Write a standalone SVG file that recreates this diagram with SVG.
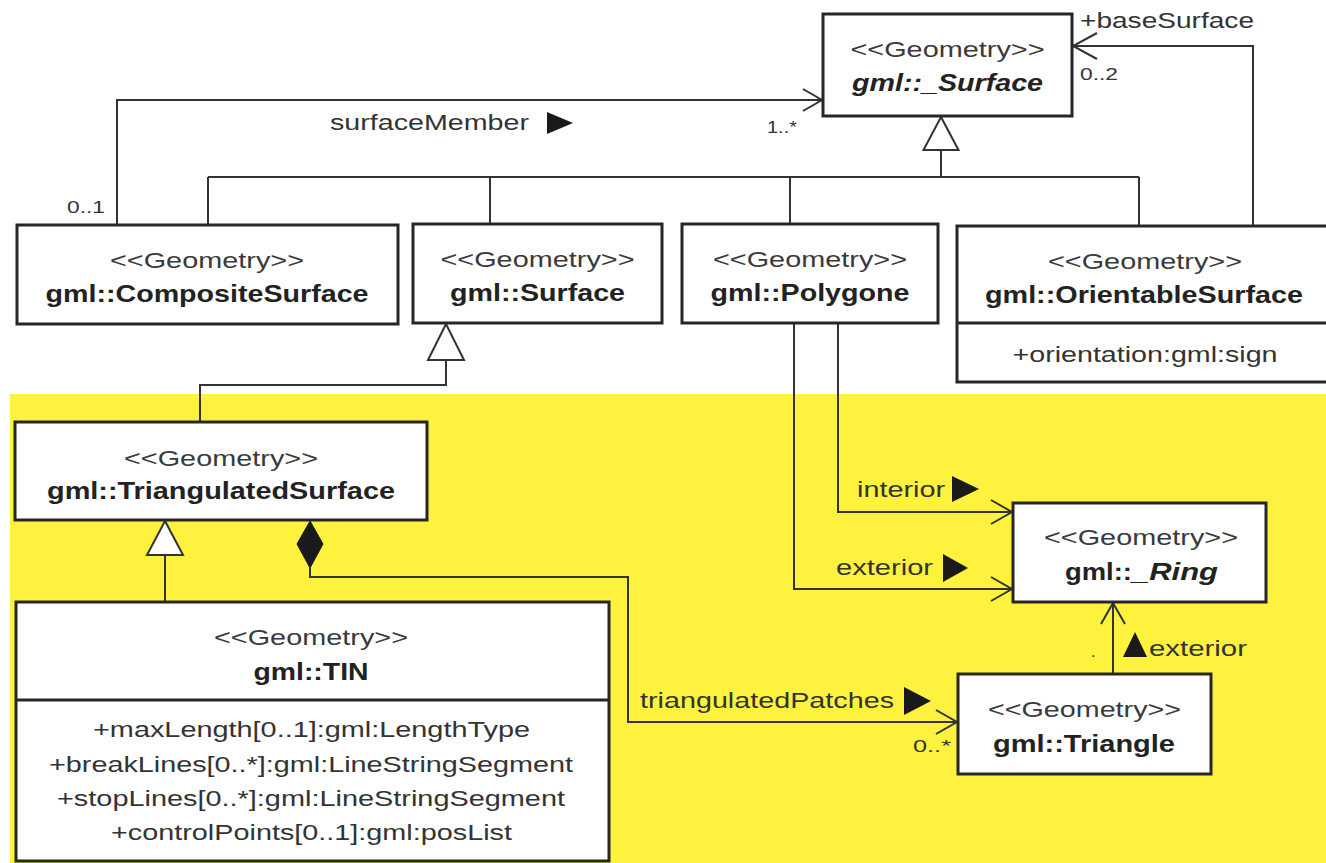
<svg xmlns="http://www.w3.org/2000/svg" width="1326" height="863" viewBox="0 0 1326 863">
<defs>
<style>
.box{fill:#fff;stroke:#262626;stroke-width:3}
.ln{fill:none;stroke:#333;stroke-width:2}
.hd{fill:none;stroke:#333;stroke-width:2}
.gen{fill:#fff;stroke:#333;stroke-width:2}
.st{font-family:"Liberation Sans",Arial,Helvetica,sans-serif;font-size:22px;fill:#3a3a3a;text-anchor:middle}
.nm{font-family:"Liberation Sans",Arial,Helvetica,sans-serif;font-size:23px;font-weight:bold;fill:#222;text-anchor:middle}
.it{font-style:italic}
.at{font-family:"Liberation Sans",Arial,Helvetica,sans-serif;font-size:22px;fill:#333;text-anchor:middle}
.lb{font-family:"Liberation Sans",Arial,Helvetica,sans-serif;font-size:22px;fill:#333}
.mu{font-family:"Liberation Sans",Arial,Helvetica,sans-serif;font-size:16px;fill:#333}
.tri{fill:#1a1a1a}
</style>
</defs>
<rect x="0" y="0" width="1326" height="863" fill="#fff"/>
<rect x="10" y="394" width="1316" height="469" fill="#FFF23E"/>

<g id="connectors">
  <!-- generalization to _Surface -->
  <path class="ln" d="M941 150 V177 M208 177 H1139 M208 177 V225 M490 177 V224 M790 177 V224 M1139 177 V226"/>
  <polygon class="gen" points="941,117 923.5,150 958.5,150"/>
  <!-- surfaceMember -->
  <path class="ln" d="M117 225 V100 H822"/>
  <path class="hd" d="M803 89 L822 100 L803 111"/>
  <text class="lb" x="330" y="130" textLength="199" lengthAdjust="spacingAndGlyphs">surfaceMember</text>
  <polygon class="tri" points="547,112 573,123 547,134"/>
  <text class="mu" x="767" y="133" textLength="30" lengthAdjust="spacingAndGlyphs">1..*</text>
  <text class="mu" x="67" y="213" textLength="38" lengthAdjust="spacingAndGlyphs">0..1</text>
  <!-- baseSurface -->
  <path class="ln" d="M1253 226 V46 H1073"/>
  <path class="hd" d="M1097 33 L1073 46 L1097 59"/>
  <text class="lb" x="1080" y="28" textLength="174" lengthAdjust="spacingAndGlyphs">+baseSurface</text>
  <text class="mu" x="1080" y="80" textLength="38" lengthAdjust="spacingAndGlyphs">0..2</text>
  <!-- Surface <- TriangulatedSurface -->
  <path class="ln" d="M446 360 V385 H200 V422"/>
  <polygon class="gen" points="446,324 428,360 464,360"/>
  <!-- TriangulatedSurface <- TIN -->
  <path class="ln" d="M165 555 V602"/>
  <polygon class="gen" points="165,521 147,555 183,555"/>
  <!-- composition triangulatedPatches -->
  <polygon fill="#1a1a1a" stroke="#1a1a1a" stroke-width="1" points="310,521 297,544 310,568 323,544"/>
  <path class="ln" d="M310 568 V577 H628 V722 H957"/>
  <path class="hd" d="M936 710 L957 722 L936 734"/>
  <text class="lb" x="640" y="708" textLength="254" lengthAdjust="spacingAndGlyphs">triangulatedPatches</text>
  <polygon class="tri" points="904,687 931,701 904,715"/>
  <text class="mu" x="913" y="752" textLength="38" lengthAdjust="spacingAndGlyphs">0..*</text>
  <!-- interior -->
  <path class="ln" d="M838 323 V512 H1012"/>
  <path class="hd" d="M991 500 L1012 512 L991 524"/>
  <text class="lb" x="857" y="497" textLength="88" lengthAdjust="spacingAndGlyphs">interior</text>
  <polygon class="tri" points="952,476 979,489 952,502"/>
  <!-- exterior -->
  <path class="ln" d="M794 323 V589 H1012"/>
  <path class="hd" d="M991 577 L1012 589 L991 601"/>
  <text class="lb" x="836" y="575" textLength="97" lengthAdjust="spacingAndGlyphs">exterior</text>
  <polygon class="tri" points="943,554 968,568 943,582"/>
  <!-- Triangle exterior to _Ring -->
  <path class="ln" d="M1113 674 V603"/>
  <path class="hd" d="M1101 624 L1113 603 L1125 624"/>
  <polygon class="tri" points="1135,632 1123,657 1147,657"/>
  <text class="lb" x="1149" y="656" textLength="98" lengthAdjust="spacingAndGlyphs">exterior</text>
  <text class="mu" x="1091" y="657">.</text>
</g>

<g id="node-surface-abstract">
  <rect class="box" x="823" y="14" width="249" height="102"/>
  <text class="st" x="947.5" y="57" textLength="194" lengthAdjust="spacingAndGlyphs">&lt;&lt;Geometry&gt;&gt;</text>
  <text class="nm it" x="947.5" y="91" textLength="191" lengthAdjust="spacingAndGlyphs">gml::_Surface</text>
</g>

<g id="node-compositesurface">
  <rect class="box" x="17" y="225" width="381" height="99"/>
  <text class="st" x="207" y="268" textLength="194" lengthAdjust="spacingAndGlyphs">&lt;&lt;Geometry&gt;&gt;</text>
  <text class="nm" x="207" y="302" textLength="323" lengthAdjust="spacingAndGlyphs">gml::CompositeSurface</text>
</g>

<g id="node-surface">
  <rect class="box" x="413" y="224" width="249" height="99"/>
  <text class="st" x="537.5" y="267" textLength="194" lengthAdjust="spacingAndGlyphs">&lt;&lt;Geometry&gt;&gt;</text>
  <text class="nm" x="537.5" y="301" textLength="175" lengthAdjust="spacingAndGlyphs">gml::Surface</text>
</g>

<g id="node-polygone">
  <rect class="box" x="682" y="224" width="256" height="99"/>
  <text class="st" x="810" y="267" textLength="194" lengthAdjust="spacingAndGlyphs">&lt;&lt;Geometry&gt;&gt;</text>
  <text class="nm" x="810" y="301" textLength="199" lengthAdjust="spacingAndGlyphs">gml::Polygone</text>
</g>

<g id="node-orientablesurface">
  <rect class="box" x="957" y="226" width="380" height="156"/>
  <line class="box" x1="957" y1="323" x2="1337" y2="323"/>
  <text class="st" x="1145" y="269" textLength="194" lengthAdjust="spacingAndGlyphs">&lt;&lt;Geometry&gt;&gt;</text>
  <text class="nm" x="1144" y="303" textLength="318" lengthAdjust="spacingAndGlyphs">gml::OrientableSurface</text>
  <text class="at" x="1145" y="362" textLength="265" lengthAdjust="spacingAndGlyphs">+orientation:gml:sign</text>
</g>

<g id="node-triangulatedsurface">
  <rect class="box" x="15" y="422" width="412" height="98"/>
  <text class="st" x="221" y="466" textLength="194" lengthAdjust="spacingAndGlyphs">&lt;&lt;Geometry&gt;&gt;</text>
  <text class="nm" x="221" y="499" textLength="348" lengthAdjust="spacingAndGlyphs">gml::TriangulatedSurface</text>
</g>

<g id="node-tin">
  <rect class="box" x="16" y="602" width="593" height="259"/>
  <line class="box" x1="16" y1="700" x2="609" y2="700"/>
  <text class="st" x="311" y="645" textLength="194" lengthAdjust="spacingAndGlyphs">&lt;&lt;Geometry&gt;&gt;</text>
  <text class="nm" x="311" y="680" textLength="115" lengthAdjust="spacingAndGlyphs">gml::TIN</text>
  <text class="at" x="311.5" y="737" textLength="437" lengthAdjust="spacingAndGlyphs">+maxLength[0..1]:gml:LengthType</text>
  <text class="at" x="311" y="772" textLength="524" lengthAdjust="spacingAndGlyphs">+breakLines[0..*]:gml:LineStringSegment</text>
  <text class="at" x="311" y="806" textLength="508" lengthAdjust="spacingAndGlyphs">+stopLines[0..*]:gml:LineStringSegment</text>
  <text class="at" x="311.5" y="840" textLength="401" lengthAdjust="spacingAndGlyphs">+controlPoints[0..1]:gml:posList</text>
</g>

<g id="node-ring">
  <rect class="box" x="1013" y="503" width="253" height="99"/>
  <text class="st" x="1141" y="545" textLength="194" lengthAdjust="spacingAndGlyphs">&lt;&lt;Geometry&gt;&gt;</text>
  <text class="nm" x="1065" y="580" style="text-anchor:start" textLength="67" lengthAdjust="spacingAndGlyphs">gml::</text>
  <text class="nm it" x="1132" y="580" style="text-anchor:start" textLength="86" lengthAdjust="spacingAndGlyphs">_Ring</text>
</g>

<g id="node-triangle">
  <rect class="box" x="958" y="674" width="253" height="100"/>
  <text class="st" x="1084.5" y="717" textLength="193" lengthAdjust="spacingAndGlyphs">&lt;&lt;Geometry&gt;&gt;</text>
  <text class="nm" x="1084" y="752" textLength="182" lengthAdjust="spacingAndGlyphs">gml::Triangle</text>
</g>
</svg>
